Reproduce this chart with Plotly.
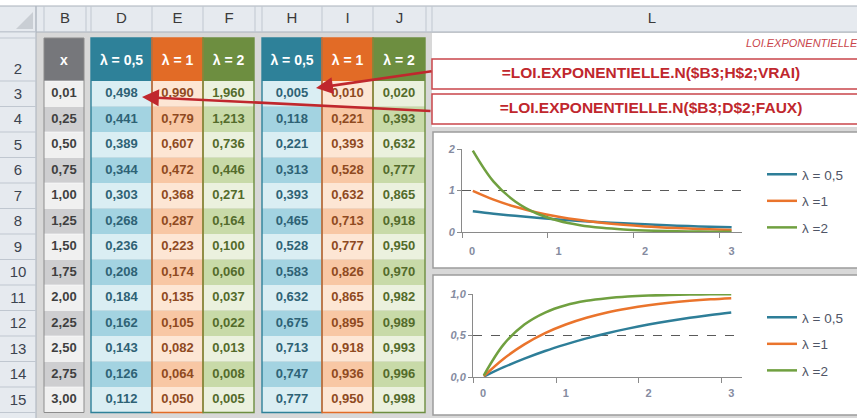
import plotly.graph_objects as go

# ---------------- data ----------------
x_vals = [0.01, 0.25, 0.50, 0.75, 1.00, 1.25, 1.50, 1.75, 2.00, 2.25, 2.50, 2.75, 3.00]
pdf_l05 = [0.498, 0.441, 0.389, 0.344, 0.303, 0.268, 0.236, 0.208, 0.184, 0.162, 0.143, 0.126, 0.112]
pdf_l1 = [0.990, 0.779, 0.607, 0.472, 0.368, 0.287, 0.223, 0.174, 0.135, 0.105, 0.082, 0.064, 0.050]
pdf_l2 = [1.960, 1.213, 0.736, 0.446, 0.271, 0.164, 0.100, 0.060, 0.037, 0.022, 0.013, 0.008, 0.005]
cdf_l05 = [0.005, 0.118, 0.221, 0.313, 0.393, 0.465, 0.528, 0.583, 0.632, 0.675, 0.713, 0.747, 0.777]
cdf_l1 = [0.010, 0.221, 0.393, 0.528, 0.632, 0.713, 0.777, 0.826, 0.865, 0.895, 0.918, 0.936, 0.950]
cdf_l2 = [0.020, 0.393, 0.632, 0.777, 0.865, 0.918, 0.950, 0.970, 0.982, 0.989, 0.993, 0.996, 0.998]
header_labels = ["λ = 0,5", "λ = 1", "λ = 2"]
legend_labels = ["λ = 0,5", "λ =1", "λ =2"]
x_header = "x"
row_numbers = list(range(2, 16))
column_letters = ["B", "D", "E", "F", "H", "I", "J", "L"]
formula_cdf = "=LOI.EXPONENTIELLE.N($B3;H$2;VRAI)"
formula_pdf = "=LOI.EXPONENTIELLE.N($B3;D$2;FAUX)"
sheet_note = "LOI.EXPONENTIELLE"
chart_ticks_x = [0, 1, 2, 3]
chart1_ticks_y = [0, 1, 2]
chart2_ticks_y = [0, 0.5, 1.0]

# ---------------- layout geometry (pixels) ----------------
W, H = 857, 418
COLS = {"A": (36, 44), "B": (44, 86), "C": (86, 91), "D": (91, 152), "E": (152, 203),
        "F": (203, 255), "G": (255, 262), "H": (262, 322), "I": (322, 373),
        "J": (373, 426), "K": (426, 432), "L": (432, 872)}
CELL_X = {"B": (44, 84), "D": (91, 152), "E": (152, 203), "F": (203, 254),
          "H": (262, 322), "I": (322, 373), "J": (373, 425)}
ROWHDR_X1 = 36
COLHDR_Y0, COLHDR_Y1 = 6, 32
ROW2_Y0, ROW3_Y0, ROW_H = 38, 81, 25.5
N_ROWS = len(x_vals)
TABLE_BOTTOM = ROW3_Y0 + N_ROWS * ROW_H

FONT = "Liberation Sans"
RED = "#C0272D"
GRAY_LINE = "#8A8A8A"
TICK_FONT_COLOR = "#858BA0"

styles = {
    "D": dict(head="#2E8199", light="#DAEEF3", dark="#A3D3E1", text="#2E6275", outline="#2E8199"),
    "E": dict(head="#E26B26", light="#FDE6D4", dark="#F8C7A4", text="#8F4A1F", outline="#E26B26"),
    "F": dict(head="#6D8E40", light="#EBF1DE", dark="#C8DAA8", text="#536B2B", outline="#6D8E40"),
}
styles["H"], styles["I"], styles["J"] = styles["D"], styles["E"], styles["F"]
B_style = dict(head="#76777B", light="#F0F0F0", dark="#CECED0", text="#3F3F3F", outline="#8C8C8C")

columns_data = {"D": pdf_l05, "E": pdf_l1, "F": pdf_l2, "H": cdf_l05, "I": cdf_l1, "J": cdf_l2}
columns_head = {"D": header_labels[0], "E": header_labels[1], "F": header_labels[2],
                "H": header_labels[0], "I": header_labels[1], "J": header_labels[2]}

def row_bounds(j):
    y0 = ROW3_Y0 + j * ROW_H
    return y0, y0 + ROW_H

def fr(v, d):
    return f"{v:.{d}f}".replace(".", ",")

shapes = []
def rect(x0, y0, x1, y1, fill=None, line=None, lw=0, layer="below"):
    shapes.append(dict(type="rect", xref="x", yref="y", x0=x0, y0=y0, x1=x1, y1=y1,
                       fillcolor=fill or "rgba(0,0,0,0)",
                       line=dict(color=line or "rgba(0,0,0,0)", width=lw), layer=layer))
def seg(x0, y0, x1, y1, color, lw=1, layer="below"):
    shapes.append(dict(type="line", xref="x", yref="y", x0=x0, y0=y0, x1=x1, y1=y1,
                       line=dict(color=color, width=lw), layer=layer))

# sheet chrome
rect(0, 0, W, COLHDR_Y0, fill="#FFFFFF")
rect(0, COLHDR_Y0, W, COLHDR_Y1, fill="#E6EAEF")
seg(0, COLHDR_Y0, W, COLHDR_Y0, "#A9B1BB")
seg(0, COLHDR_Y1, W, COLHDR_Y1, "#A9B1BB")
for name, (a, b) in COLS.items():
    seg(a, COLHDR_Y0, a, COLHDR_Y1, "#C0C7D0")
rect(0, COLHDR_Y1, ROWHDR_X1, H, fill="#E6EAEF")
seg(ROWHDR_X1, COLHDR_Y0, ROWHDR_X1, H, "#A9B1BB")
row_edges = [COLHDR_Y1, ROW2_Y0] + [ROW3_Y0 + j * ROW_H for j in range(N_ROWS + 1)]
for yy in row_edges:
    seg(0, yy, ROWHDR_X1, yy, "#C0C7D0")
shapes.append(dict(type="path", xref="x", yref="y", path="M 33 12 L 33 29 L 16 29 Z",
                   fillcolor="#C9CED4", line=dict(width=0), layer="below"))
# white area of column L
rect(COLS["L"][0], COLHDR_Y1 + 1, W, 127, fill="#FFFFFF")

# table: x column
bx0, bx1 = CELL_X["B"]
rect(bx0, ROW2_Y0, bx1, ROW3_Y0, fill=B_style["head"])
for j in range(N_ROWS):
    y0, y1 = row_bounds(j)
    rect(bx0, y0, bx1, y1, fill=B_style["light"] if j % 2 == 0 else B_style["dark"])
    seg(bx0, y0, bx1, y0, "#FFFFFF", 0.6)
rect(bx0, ROW2_Y0, bx1, TABLE_BOTTOM, line=B_style["outline"], lw=1)

# table: lambda columns
for c in ["D", "E", "F", "H", "I", "J"]:
    s = styles[c]
    x0, x1 = CELL_X[c]
    rect(x0, ROW2_Y0, x1, ROW3_Y0, fill=s["head"])
    for j in range(N_ROWS):
        y0, y1 = row_bounds(j)
        rect(x0, y0, x1, y1, fill=s["light"] if j % 2 == 0 else s["dark"])
for c in ["D", "E", "F", "H", "I", "J"]:
    s = styles[c]
    x0, x1 = CELL_X[c]
    rect(x0, ROW2_Y0, x1, TABLE_BOTTOM, line=s["outline"], lw=1.4)

# formula boxes
rect(COLS["L"][0], 59, 880, 89, fill="#FFFFFF", line="#C9454B", lw=1.5)
rect(COLS["L"][0], 94, 880, 124, fill="#FFFFFF", line="#C9454B", lw=1.5)
# chart boxes
rect(433, 132, 880, 268, fill="#FFFFFF", line="#9C9C9C", lw=1.5)
rect(433, 275, 880, 415, fill="#FFFFFF", line="#9C9C9C", lw=1.5)

fig = go.Figure()

def text_trace(xs, ys, texts, color, size, bold=False, italic=False, family=FONT, pos="middle center"):
    fig.add_trace(go.Scatter(
        x=xs, y=ys, text=texts, mode="text", textposition=pos, showlegend=False,
        hoverinfo="skip", cliponaxis=False, xaxis="x", yaxis="y",
        textfont=dict(family=family, size=size, color=color,
                      weight="bold" if bold else "normal",
                      style="italic" if italic else "normal")))

# column letters
text_trace([(COLS[c][0] + min(COLS[c][1], 872)) / 2 for c in column_letters],
           [19.5] * len(column_letters), column_letters, "#3A3A3A", 15)
# row numbers
row_y = [70] + [row_bounds(j)[0] + ROW_H / 2 + 1 for j in range(N_ROWS)]
text_trace([18] * len(row_numbers), row_y, [str(n) for n in row_numbers], "#3C4450", 15)

centers = [row_bounds(j)[0] + ROW_H / 2 for j in range(N_ROWS)]
# x column
text_trace([(bx0 + bx1) / 2], [(ROW2_Y0 + ROW3_Y0) / 2 + 2], [x_header], "#FFFFFF", 14, bold=True)
text_trace([(bx0 + bx1) / 2] * N_ROWS, centers, [fr(v, 2) for v in x_vals], B_style["text"], 13, bold=True)
for c in ["D", "E", "F", "H", "I", "J"]:
    x0, x1 = CELL_X[c]
    xc = (x0 + x1) / 2
    text_trace([xc], [(ROW2_Y0 + ROW3_Y0) / 2 + 2], [columns_head[c]], "#FFFFFF", 14, bold=True)
    text_trace([xc] * N_ROWS, centers, [fr(v, 3) for v in columns_data[c]], styles[c]["text"], 13, bold=True)

# formula texts and note
text_trace([651, 651], [74, 109], [formula_cdf, formula_pdf], RED, 15.5, bold=True)
text_trace([746], [44], [sheet_note], "#C9454B", 11, italic=True, pos="middle right")

# ---------------- charts ----------------
series_colors = ["#2E7E98", "#EA742C", "#70A040"]
for vals, name, col in zip([pdf_l05, pdf_l1, pdf_l2], legend_labels, series_colors):
    fig.add_trace(go.Scatter(x=x_vals, y=vals, mode="lines", name=name, xaxis="x2", yaxis="y2",
                             line=dict(color=col, width=2.5, shape="spline", smoothing=1),
                             legend="legend", legendgroup="a" + name, hoverinfo="skip"))
for vals, name, col in zip([cdf_l05, cdf_l1, cdf_l2], legend_labels, series_colors):
    fig.add_trace(go.Scatter(x=x_vals, y=vals, mode="lines", name=name, xaxis="x3", yaxis="y3",
                             line=dict(color=col, width=2.5, shape="spline", smoothing=1),
                             legend="legend2", legendgroup="b" + name, hoverinfo="skip"))

def px_x(a, b):
    return [a / W, b / W]
def px_y(top, bottom):
    return [1 - bottom / H, 1 - top / H]

tickfont_x = dict(family=FONT, size=11, color=TICK_FONT_COLOR, weight="bold")
tickfont_y = dict(family=FONT, size=11, color=TICK_FONT_COLOR, weight="bold", style="italic")

def chart_xaxis(domain, rng, minor_vals, anchor, standoff):
    return dict(domain=domain, range=rng, anchor=anchor, tickvals=chart_ticks_x, ticks="",
                showline=True, linecolor=GRAY_LINE, linewidth=1, showgrid=False, zeroline=False,
                tickfont=tickfont_x, fixedrange=True, ticklabelstandoff=standoff,
                minor=dict(tickvals=minor_vals, ticks="outside", ticklen=5, tickcolor=GRAY_LINE,
                           tickwidth=1, showgrid=False))

def chart_yaxis(domain, rng, tv, fmt, anchor):
    return dict(domain=domain, range=rng, anchor=anchor, tickvals=tv, tickformat=fmt,
                ticks="outside", ticklen=4, tickcolor=GRAY_LINE, showline=True, linecolor=GRAY_LINE,
                linewidth=1, showgrid=True, gridcolor="#5A5A5A", griddash="dash", gridwidth=1,
                zeroline=False, tickfont=tickfont_y, fixedrange=True)

legend_common = dict(xanchor="left", yanchor="top", bgcolor="rgba(0,0,0,0)", borderwidth=0,
                     font=dict(family=FONT, size=13.5, color="#4F5566"), traceorder="grouped",
                     tracegroupgap=6, itemwidth=30, xref="container", yref="container")

fig.update_layout(
    width=W, height=H, margin=dict(l=0, r=0, t=0, b=0, autoexpand=False),
    paper_bgcolor="#D8D8D8", plot_bgcolor="rgba(0,0,0,0)", separators=", ",
    xaxis=dict(domain=[0, 1], range=[0, W], visible=False, fixedrange=True),
    yaxis=dict(domain=[0, 1], range=[H, 0], visible=False, fixedrange=True),
    xaxis2=chart_xaxis(px_x(462, 742), [-0.115, 3.12], [-0.115, 0.878, 1.871, 2.864], "y2", 9),
    yaxis2=chart_yaxis(px_y(149, 232), [0, 2], chart1_ticks_y, "d", "x2"),
    xaxis3=chart_xaxis(px_x(473, 742), [-0.121, 3.13], [-0.121, 0.883, 1.874, 2.88], "y3", 6),
    yaxis3=chart_yaxis(px_y(294, 377), [0, 1], chart2_ticks_y, ".1f", "x3"),
    legend=dict(x=762 / W, y=1 - 159 / H, **legend_common),
    legend2=dict(x=762 / W, y=1 - 302 / H, **legend_common),
    shapes=shapes,
    showlegend=True,
    annotations=[
        dict(x=316, y=88, ax=433, ay=71, xref="x", yref="y", axref="x", ayref="y", text="",
             showarrow=True, arrowhead=2, arrowsize=1.3, arrowwidth=2.6, arrowcolor=RED, standoff=0),
        dict(x=142, y=97, ax=432, ay=111, xref="x", yref="y", axref="x", ayref="y", text="",
             showarrow=True, arrowhead=2, arrowsize=1.3, arrowwidth=2.6, arrowcolor=RED, standoff=0),
    ],
)

fig.write_html("out.html", config={"displayModeBar": False},
               post_script="document.body.style.margin='0';document.body.style.overflow='hidden';")
